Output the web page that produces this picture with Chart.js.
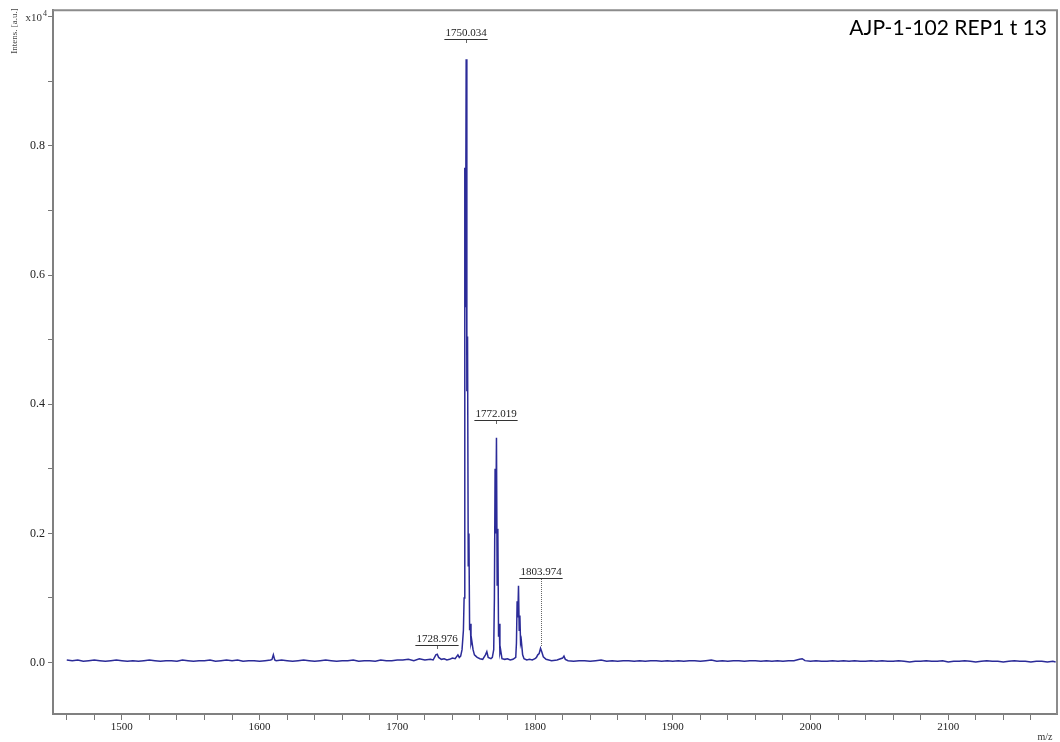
<!DOCTYPE html>
<html>
<head>
<meta charset="utf-8">
<script src="https://cdn.jsdelivr.net/npm/chart.js@4/dist/chart.umd.min.js"></script>
<style>
html, body { margin: 0; padding: 0; background: #fff; }
#wrap { width: 1060px; height: 742px; }
</style>
</head>
<body>
<div id="wrap"><canvas id="spec" width="1060" height="742"></canvas></div>
<script>
// spectrum, intensity in units of 1e4 a.u.
var mz = [
  1460,1464,1468,1472,1476,1480,1484,1488,1492,1496,
  1500,1504,1508,1512,1516,1520,1524,1528,1532,1536,
  1540,1544,1548,1552,1556,1560,1564,1568,1572,1576,
  1580,1584,1588,1592,1596,1600,1604,1608,1609,1610,
  1611,1612,1616,1620,1624,1628,1632,1636,1640,1644,
  1648,1652,1656,1660,1664,1668,1672,1676,1680,1684,
  1688,1692,1696,1700,1704,1708,1712,1716,1720,1724,
  1726,1728,1729,1730,1732,1734,1736,1738,1740,1742,
  1744,1745,1746,1747,1748,1748.5,1749,1749.5,1750,1750.5,
  1751,1751.5,1752,1752.5,1753,1753.5,1754,1755,1756,1757,
  1758,1760,1762,1764,1765,1766,1768,1769,1770,1770.5,
  1771,1771.5,1772,1772.5,1773,1773.5,1774,1774.5,1775,1776,
  1778,1780,1782,1784,1786,1786.5,1787,1787.5,1788,1788.5,
  1789,1789.5,1790,1791,1792,1794,1796,1798,1800,1801,
  1802,1803,1804,1805,1806,1808,1810,1812,1816,1820,
  1821,1822,1824,1828,1832,1836,1840,1844,1848,1852,
  1856,1860,1864,1868,1872,1876,1880,1884,1888,1892,
  1896,1900,1904,1908,1912,1916,1920,1924,1928,1932,
  1936,1940,1944,1948,1952,1956,1960,1964,1968,1972,
  1976,1980,1984,1988,1992,1994,1996,2000,2004,2008,
  2012,2016,2020,2024,2028,2032,2036,2040,2044,2048,
  2052,2056,2060,2064,2068,2072,2076,2080,2084,2088,
  2092,2096,2100,2104,2108,2112,2116,2120,2124,2128,
  2132,2136,2140,2144,2148,2152,2156,2160,2164,2168,
  2172,2176,2178
];
var intens = [
  .004,.003,.004,.002,.003,.004,.003,.002,.003,.004,
  .003,.002,.003,.002,.003,.004,.003,.002,.003,.003,
  .002,.004,.003,.002,.003,.003,.004,.002,.003,.004,
  .003,.004,.002,.003,.003,.002,.003,.004,.005,.012,
  .004,.003,.004,.003,.002,.003,.004,.003,.002,.003,
  .004,.003,.002,.003,.003,.004,.002,.003,.003,.002,
  .004,.003,.003,.004,.004,.005,.003,.006,.004,.005,
  .004,.012,.013,.008,.005,.006,.004,.005,.007,.006,
  .012,.008,.010,.020,.050,.100,.766,.550,.934,.420,
  .505,.150,.200,.050,.060,.030,.035,.020,.012,.010,
  .008,.006,.005,.012,.017,.008,.006,.008,.020,.100,
  .300,.200,.348,.120,.207,.040,.060,.015,.020,.006,
  .005,.006,.004,.005,.008,.030,.095,.070,.119,.050,
  .073,.030,.035,.012,.006,.004,.005,.004,.006,.008,
  .012,.014,.022,.016,.009,.005,.004,.003,.004,.007,
  .010,.005,.003,.002,.003,.003,.002,.003,.004,.002,
  .003,.002,.003,.003,.002,.003,.002,.003,.003,.002,
  .003,.002,.003,.002,.003,.003,.002,.003,.004,.002,
  .003,.002,.003,.003,.002,.003,.003,.002,.003,.002,
  .003,.002,.003,.003,.005,.006,.003,.002,.003,.002,
  .002,.003,.002,.003,.002,.003,.002,.002,.003,.002,
  .003,.002,.002,.003,.002,.001,.002,.002,.003,.002,
  .002,.003,.001,.002,.002,.003,.002,.001,.002,.003,
  .002,.002,.001,.002,.003,.002,.002,.001,.002,.002,
  .001,.002,.001
];

// peak annotations
var peakLabels = ['1750.034', '1772.019', '1803.974', '1728.976'];
var peakMz     = [1750.034, 1772.019, 1803.974, 1728.976];
var labelLevel = [0.965, 0.376, 0.131, 0.027];
var peakTop    = [0.934, 0.348, 0.022, 0.013];
var stemDotted = [false, false, true, false];

var xTickLabels = ['1500', '1600', '1700', '1800', '1900', '2000', '2100'];
var yTickLabels = ['0.0', '0.2', '0.4', '0.6', '0.8'];
var sampleName = 'AJP-1-102 REP1 t 13';
var yTitle = 'Intens. [a.u.]';
var xTitle = 'm/z';

var pts = mz.map(function(m, i) { return { x: m, y: intens[i] }; });
var serif = '"Liberation Serif", "Times New Roman", serif';

var decor = {
  id: 'decor',
  afterDraw: function(chart) {
    var ctx = chart.ctx, a = chart.chartArea;
    var xs = chart.scales.x, ys = chart.scales.y;
    ctx.save();

    // frame on top and right
    ctx.strokeStyle = '#8c8c8c';
    ctx.lineWidth = 2;
    ctx.beginPath();
    ctx.moveTo(a.left, a.top);
    ctx.lineTo(a.right, a.top);
    ctx.lineTo(a.right, a.bottom);
    ctx.stroke();

    // peak labels
    ctx.font = '11px ' + serif;
    ctx.textAlign = 'center';
    ctx.textBaseline = 'alphabetic';
    for (var i = 0; i < peakLabels.length; i++) {
      var px = Math.round(xs.getPixelForValue(peakMz[i]));
      var ly = Math.round(ys.getPixelForValue(labelLevel[i]));
      var w = ctx.measureText(peakLabels[i]).width;
      ctx.fillStyle = '#222';
      ctx.fillText(peakLabels[i], px, ly - 3);
      ctx.strokeStyle = '#333';
      ctx.lineWidth = 1.2;
      ctx.beginPath();
      ctx.moveTo(px - w / 2 - 1, ly + 0.5);
      ctx.lineTo(px + w / 2 + 1, ly + 0.5);
      ctx.stroke();
      ctx.strokeStyle = '#666';
      ctx.lineWidth = 1;
      ctx.beginPath();
      if (stemDotted[i]) {
        ctx.setLineDash([1, 1]);
        ctx.moveTo(px + 0.5, ly + 1);
        ctx.lineTo(px + 0.5, ys.getPixelForValue(peakTop[i]) - 2);
      } else {
        ctx.moveTo(px + 0.5, ly + 1);
        ctx.lineTo(px + 0.5, ly + 4);
      }
      ctx.stroke();
      ctx.setLineDash([]);
    }

    // y axis title, rotated
    ctx.fillStyle = '#444';
    ctx.font = '9px ' + serif;
    ctx.save();
    ctx.translate(15, 31);
    ctx.rotate(-Math.PI / 2);
    ctx.textAlign = 'center';
    ctx.textBaseline = 'middle';
    ctx.fillText(yTitle, 0, 0);
    ctx.restore();

    // x10^4 exponent at the top of the y axis
    var ty = ys.getPixelForValue(1.0);
    ctx.fillStyle = '#333';
    ctx.textAlign = 'right';
    ctx.textBaseline = 'middle';
    ctx.font = '8px ' + serif;
    ctx.fillText('4', 47, ty - 3);
    ctx.font = '11px ' + serif;
    ctx.fillText('x10', 42, ty + 1);

    // m/z
    ctx.textAlign = 'center';
    ctx.textBaseline = 'alphabetic';
    ctx.font = '10px ' + serif;
    ctx.fillText(xTitle, 1045, 740);

    // sample name
    ctx.fillStyle = '#000';
    ctx.font = '21px Lato, "Open Sans", sans-serif';
    ctx.textAlign = 'right';
    ctx.fillText(sampleName, 1047, 35);

    ctx.restore();
  }
};

var ctx = document.getElementById('spec').getContext('2d');
var chart = new Chart(ctx, {
  type: 'line',
  data: {
    datasets: [{
      data: pts,
      borderColor: '#2b2b98',
      borderWidth: 1.5,
      pointRadius: 0,
      tension: 0,
      fill: false
    }]
  },
  options: {
    responsive: false,
    animation: false,
    layout: { padding: { top: 9, right: 3, left: 0, bottom: 0 } },
    plugins: { legend: { display: false }, tooltip: { enabled: false } },
    scales: {
      x: {
        type: 'linear',
        min: 1450,
        max: 2179,
        afterFit: function(s) { s.height = 28; },
        afterBuildTicks: function(s) {
          var t = [];
          for (var v = 1460; v <= 2160; v += 20) t.push({ value: v });
          s.ticks = t;
        },
        ticks: {
          autoSkip: false,
          maxRotation: 0,
          padding: 1,
          color: '#222',
          font: { family: serif, size: 11 },
          callback: function(v) {
            var s = String(v);
            return xTickLabels.indexOf(s) >= 0 ? s : '';
          }
        },
        grid: { drawOnChartArea: false, drawTicks: true, tickLength: 6, color: '#777', lineWidth: 1 },
        border: { display: true, color: '#808080', width: 2 }
      },
      y: {
        min: -0.0796,
        max: 1.010,
        afterFit: function(s) { s.width = 53; },
        afterBuildTicks: function(s) {
          var t = [];
          for (var k = 0; k <= 10; k++) t.push({ value: k / 10 });
          s.ticks = t;
        },
        ticks: {
          autoSkip: false,
          padding: 3,
          color: '#222',
          font: { family: serif, size: 12 },
          callback: function(v) {
            var k = Math.round(v * 10);
            if (k % 2 === 0 && k < 10) return yTickLabels[k / 2];
            return '';
          }
        },
        grid: { drawOnChartArea: false, drawTicks: true, tickLength: 5, color: '#777', lineWidth: 1 },
        border: { display: true, color: '#808080', width: 2 }
      }
    }
  },
  plugins: [decor]
});
</script>
</body>
</html>
